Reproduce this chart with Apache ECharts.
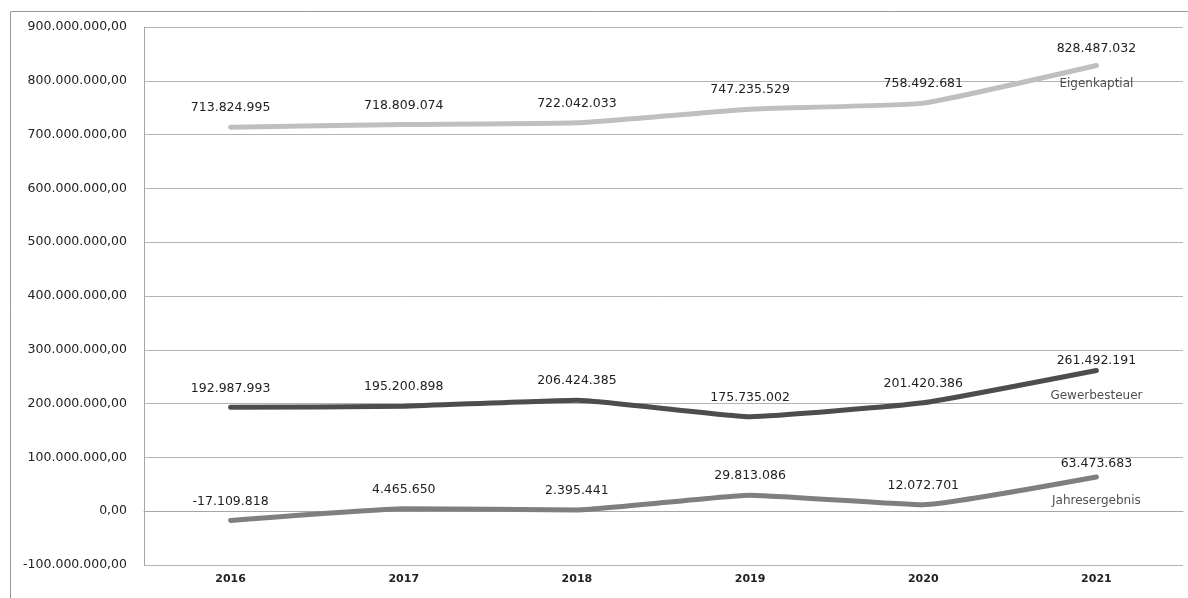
<!DOCTYPE html>
<html>
<head>
<meta charset="utf-8">
<script src="https://cdn.jsdelivr.net/npm/echarts@6/dist/echarts.min.js"></script>
<style>
  html, body { margin: 0; padding: 0; background: #fff; }
  #main { width: 1188px; height: 598px; }
</style>
</head>
<body>
<div id="main"></div>
<script>
  var jahre = ['2016', '2017', '2018', '2019', '2020', '2021'];
  var eigenkapital = [713824995, 718809074, 722042033, 747235529, 758492681, 828487032];
  var gewerbesteuer = [192987993, 195200898, 206424385, 175735002, 201420386, 261492191];
  var jahresergebnis = [-17109818, 4465650, 2395441, 29813086, 12072701, 63473683];
  var namen = ['Eigenkaptial', 'Gewerbesteuer', 'Jahresergebnis'];

  // deutsche Zahlenformatierung
  function fmt(v, dec) {
    var neg = v < 0;
    var s = Math.abs(v).toFixed(dec);
    var teile = s.split('.');
    var ganz = teile[0].replace(/\B(?=(\d{3})+(?!\d))/g, '.');
    return (neg ? '-' : '') + ganz + (dec ? ',' + teile[1] : '');
  }

  var schrift = 'DejaVu Sans';

  function linie(name, daten, farbe, letzterAbstand) {
    return {
      name: name,
      type: 'line',
      data: daten.map(function (v, i) {
        var item = { value: v };
        if (i === daten.length - 1) item.label = { distance: letzterAbstand };
        return item;
      }),
      smooth: 0.12,
      symbol: 'circle',
      symbolSize: 1,
      showSymbol: true,
      itemStyle: { color: farbe, borderWidth: 0 },
      lineStyle: { color: farbe, width: 5, cap: 'round' },
      label: {
        show: true,
        position: 'top',
        distance: 12,
        color: '#222',
        fontFamily: schrift,
        fontSize: 12.5,
        formatter: function (p) { return fmt(p.value, 0); }
      },
      z: 3
    };
  }

  // Reihenname unter dem letzten Punkt
  function namensLabel(name, daten, abstand) {
    return {
      type: 'scatter',
      data: [[jahre.length - 1, daten[daten.length - 1]]],
      symbolSize: 1,
      itemStyle: { color: 'rgba(0,0,0,0)' },
      silent: true,
      label: {
        show: true,
        position: 'bottom',
        distance: abstand,
        color: '#222',
        fontFamily: schrift,
        fontSize: 12,
        formatter: function () { return name; }
      }
    };
  }

  var myChart = echarts.init(document.getElementById('main'));

  var option = {
    animation: false,
    graphic: [{
      type: 'rect',
      shape: { x: 10.5, y: 11.5, width: 1200, height: 620 },
      style: { fill: 'none', stroke: '#9a9a9a', lineWidth: 1 },
      silent: true
    }],
    grid: { left: 144, right: 5, top: 27, bottom: 33, containLabel: false },
    xAxis: {
      type: 'category',
      data: jahre,
      boundaryGap: true,
      axisLine: { lineStyle: { color: '#a6a6a6', width: 1 } },
      axisTick: { show: false },
      axisLabel: {
        color: '#222',
        fontFamily: schrift,
        fontSize: 11,
        fontWeight: 'bold',
        margin: 9
      }
    },
    yAxis: {
      type: 'value',
      min: -100000000,
      max: 900000000,
      interval: 100000000,
      axisLine: { show: true, lineStyle: { color: '#a6a6a6', width: 1 } },
      axisTick: { show: false },
      splitLine: { lineStyle: { color: '#b3b3b3', width: 1 } },
      axisLabel: {
        color: '#222',
        fontFamily: schrift,
        fontSize: 12.5,
        margin: 17,
        formatter: function (v) { return fmt(v, 2); }
      }
    },
    series: [
      linie(namen[0], eigenkapital, '#bfbfbf', 10),
      linie(namen[1], gewerbesteuer, '#4d4d4d', 3),
      linie(namen[2], jahresergebnis, '#7f7f7f', 6),
      namensLabel(namen[0], eigenkapital, 12),
      namensLabel(namen[1], gewerbesteuer, 19),
      namensLabel(namen[2], jahresergebnis, 17)
    ]
  };

  myChart.setOption(option);
</script>
</body>
</html>
